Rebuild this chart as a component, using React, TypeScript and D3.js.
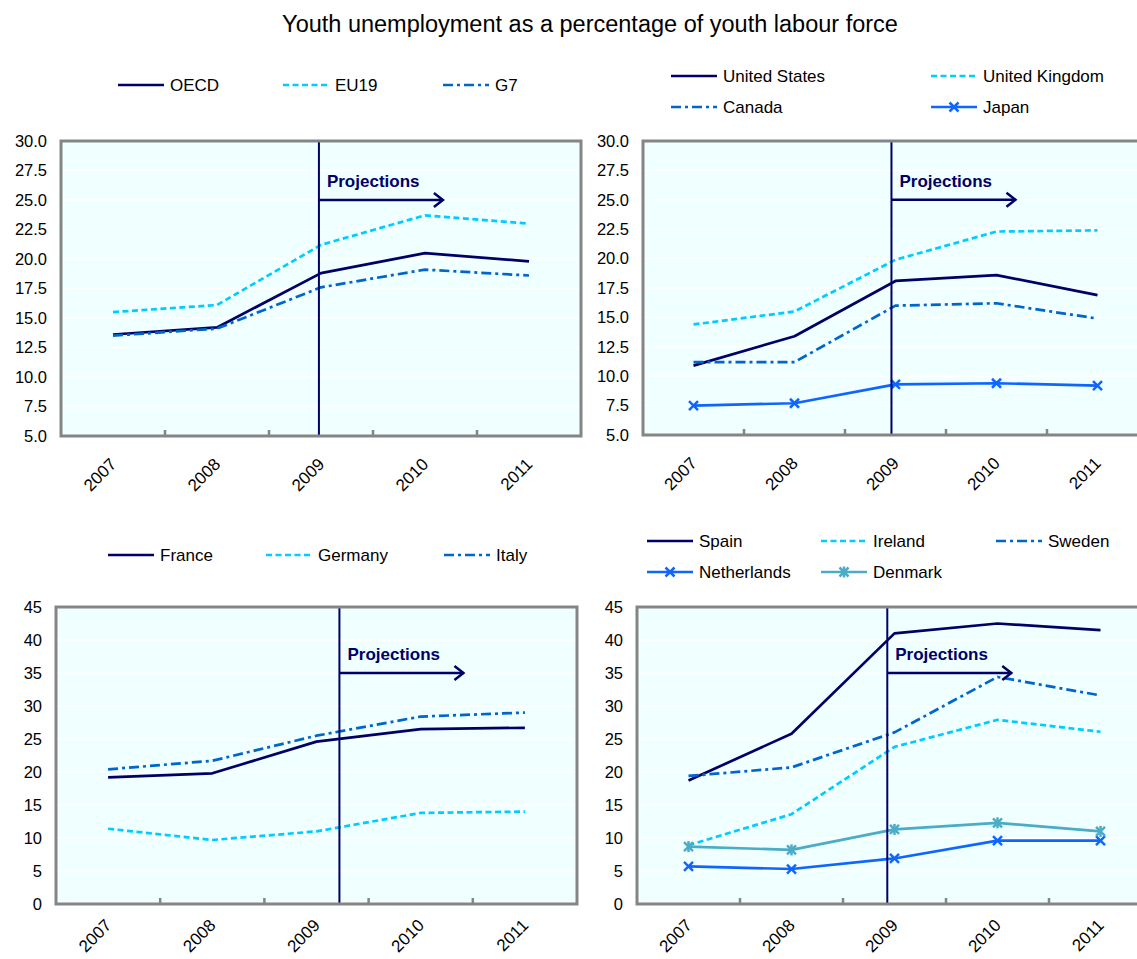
import React from 'react';
import * as d3 from 'd3';

// Years on the category axis
const years = ['2007', '2008', '2009', '2010', '2011'];

// Panel 1: OECD aggregates
const oecd = [13.6, 14.2, 18.8, 20.5, 19.8];
const eu19 = [15.5, 16.1, 21.2, 23.7, 23.0];
const g7 = [13.5, 14.1, 17.6, 19.1, 18.6];

// Panel 2: large economies
const unitedStates = [10.9, 13.4, 18.1, 18.6, 16.9];
const unitedKingdom = [14.4, 15.5, 19.9, 22.3, 22.4];
const canada = [11.2, 11.2, 16.0, 16.2, 14.9];
const japan = [7.5, 7.7, 9.3, 9.4, 9.2];

// Panel 3: continental Europe
const france = [19.2, 19.8, 24.6, 26.5, 26.7];
const germany = [11.4, 9.7, 11.0, 13.8, 14.0];
const italy = [20.4, 21.7, 25.5, 28.4, 29.0];

// Panel 4: smaller European economies
const spain = [18.7, 25.8, 41.0, 42.5, 41.5];
const ireland = [8.9, 13.6, 23.8, 27.9, 26.1];
const sweden = [19.4, 20.7, 26.0, 34.4, 31.6];
const netherlands = [5.7, 5.3, 6.9, 9.6, 9.6];
const denmark = [8.7, 8.2, 11.3, 12.3, 11.0];

// Y-axis tick values
const ticksTop = [5, 7.5, 10, 12.5, 15, 17.5, 20, 22.5, 25, 27.5, 30];
const ticksBottom = [0, 5, 10, 15, 20, 25, 30, 35, 40, 45];

const FONT = '"Liberation Sans", Arial, Helvetica, sans-serif';
const NAVY = '#000066';
const BORDER = '#858585';
const PLOT_BG = '#F0FFFF';

type LineKind = 'solid' | 'dash' | 'dashdot' | 'cross' | 'star';

const KIND: Record<LineKind, { stroke: string; dash?: string; marker?: 'x' | 'star' }> = {
  solid: { stroke: NAVY },
  dash: { stroke: '#00CCFF', dash: '6,3.5' },
  dashdot: { stroke: '#0066CC', dash: '10,4,3,4' },
  cross: { stroke: '#0F66FF', marker: 'x' },
  star: { stroke: '#4BACC6', marker: 'star' },
};

interface Series {
  name: string;
  values: number[];
  kind: LineKind;
  lx: number; // legend line start
  ly: number; // legend row centre
}

interface Panel {
  left: number;
  right: number;
  top: number;
  bottom: number;
  ticks: number[];
  fmt: (v: number) => string;
  proj: number; // fractional category index of the projection divider
  arrowValue: number;
  labelOffset: number; // distance from axis to the rotated year labels
  series: Series[];
}

const fmt1 = d3.format('.1f');
const fmt0 = d3.format('d');

const panels: Panel[] = [
  {
    left: 61, right: 581, top: 141, bottom: 436, ticks: ticksTop, fmt: fmt1, proj: 1.98, arrowValue: 25,
    labelOffset: 21,
    series: [
      { name: 'OECD', values: oecd, kind: 'solid', lx: 118, ly: 85 },
      { name: 'EU19', values: eu19, kind: 'dash', lx: 283, ly: 85 },
      { name: 'G7', values: g7, kind: 'dashdot', lx: 443, ly: 85 },
    ],
  },
  {
    left: 643, right: 1148, top: 141, bottom: 435, ticks: ticksTop, fmt: fmt1, proj: 1.96, arrowValue: 25,
    labelOffset: 21,
    series: [
      { name: 'United States', values: unitedStates, kind: 'solid', lx: 671, ly: 76 },
      { name: 'United Kingdom', values: unitedKingdom, kind: 'dash', lx: 931, ly: 76 },
      { name: 'Canada', values: canada, kind: 'dashdot', lx: 671, ly: 107 },
      { name: 'Japan', values: japan, kind: 'cross', lx: 931, ly: 107 },
    ],
  },
  {
    left: 56, right: 577, top: 607, bottom: 904, ticks: ticksBottom, fmt: fmt0, proj: 2.22, arrowValue: 35,
    labelOffset: 14,
    series: [
      { name: 'France', values: france, kind: 'solid', lx: 108, ly: 555 },
      { name: 'Germany', values: germany, kind: 'dash', lx: 266, ly: 555 },
      { name: 'Italy', values: italy, kind: 'dashdot', lx: 444, ly: 555 },
    ],
  },
  {
    left: 637, right: 1152, top: 607, bottom: 904, ticks: ticksBottom, fmt: fmt0, proj: 1.93, arrowValue: 35,
    labelOffset: 14,
    series: [
      { name: 'Spain', values: spain, kind: 'solid', lx: 647, ly: 541 },
      { name: 'Ireland', values: ireland, kind: 'dash', lx: 821, ly: 541 },
      { name: 'Sweden', values: sweden, kind: 'dashdot', lx: 996, ly: 541 },
      { name: 'Netherlands', values: netherlands, kind: 'cross', lx: 647, ly: 572 },
      { name: 'Denmark', values: denmark, kind: 'star', lx: 821, ly: 572 },
    ],
  },
];

function Marker({ x, y, type, color }: { x: number; y: number; type: 'x' | 'star'; color: string }) {
  const s = 4.5;
  return (
    <g stroke={color} strokeWidth={2.5} strokeLinecap="butt">
      <line x1={x - s} y1={y - s} x2={x + s} y2={y + s} />
      <line x1={x - s} y1={y + s} x2={x + s} y2={y - s} />
      {type === 'star' && <line x1={x} y1={y - 5.5} x2={x} y2={y + 5.5} />}
    </g>
  );
}

function ChartPanel({ p }: { p: Panel }) {
  const x = d3.scaleBand<string>().domain(years).range([p.left, p.right]).paddingInner(0).paddingOuter(0);
  const bw = x.bandwidth();
  const cx = (i: number) => p.left + (i + 0.5) * bw;
  const yMin = p.ticks[0];
  const yMax = p.ticks[p.ticks.length - 1];
  const y = d3.scaleLinear().domain([yMin, yMax]).range([p.bottom, p.top]);
  const line = d3
    .line<number>()
    .x((_, i) => (x(years[i]) as number) + bw / 2)
    .y((v) => y(v));
  const projX = cx(p.proj);
  const arrowY = y(p.arrowValue);
  const arrowEnd = projX + 124;

  return (
    <g>
      <rect x={p.left} y={p.top} width={p.right - p.left} height={p.bottom - p.top} fill={PLOT_BG} />
      {/* horizontal gridlines */}
      {p.ticks.slice(1, -1).map((t) => (
        <line key={t} x1={p.left} x2={p.right} y1={y(t)} y2={y(t)} stroke="#FFFFFF" strokeWidth={1.5} />
      ))}
      {/* y tick labels */}
      {p.ticks.map((t) => (
        <text
          key={t}
          x={p.left - 14}
          y={y(t)}
          dy="0.35em"
          textAnchor="end"
          fontFamily={FONT}
          fontSize={16.5}
          fill="#000"
        >
          {p.fmt(t)}
        </text>
      ))}
      {/* category ticks (inside, at band boundaries) */}
      {years.slice(1).map((yr) => (
        <line
          key={yr}
          x1={x(yr) as number}
          x2={x(yr) as number}
          y1={p.bottom}
          y2={p.bottom - 6}
          stroke={BORDER}
          strokeWidth={2.5}
        />
      ))}
      {/* x labels */}
      {years.map((yr) => (
        <text
          key={yr}
          transform={`translate(${(x(yr) as number) + bw / 2 - 4},${p.bottom + p.labelOffset}) rotate(-45)`}
          textAnchor="end"
          dy="0.7em"
          fontFamily={FONT}
          fontSize={17}
          fill="#000"
        >
          {yr}
        </text>
      ))}
      {/* series */}
      {p.series.map((s) => {
        const k = KIND[s.kind];
        return (
          <g key={s.name}>
            <path
              d={line(s.values) ?? ''}
              fill="none"
              stroke={k.stroke}
              strokeWidth={2.7}
              strokeDasharray={k.dash}
              strokeLinejoin="round"
            />
            {k.marker &&
              s.values.map((v, i) => (
                <Marker key={i} x={(x(years[i]) as number) + bw / 2} y={y(v)} type={k.marker!} color={k.stroke} />
              ))}
          </g>
        );
      })}
      {/* projection divider and arrow */}
      <line x1={projX} x2={projX} y1={p.top} y2={p.bottom} stroke={NAVY} strokeWidth={2} />
      <line x1={projX} x2={arrowEnd} y1={arrowY} y2={arrowY} stroke={NAVY} strokeWidth={2.5} />
      <polyline
        points={`${arrowEnd - 9},${arrowY - 7} ${arrowEnd},${arrowY} ${arrowEnd - 9},${arrowY + 7}`}
        fill="none"
        stroke={NAVY}
        strokeWidth={2.5}
      />
      <text x={projX + 8} y={arrowY - 13} fontFamily={FONT} fontSize={17} fontWeight="bold" fill={NAVY}>
        Projections
      </text>
      {/* plot frame */}
      <rect
        x={p.left}
        y={p.top}
        width={p.right - p.left}
        height={p.bottom - p.top}
        fill="none"
        stroke={BORDER}
        strokeWidth={3}
      />
      {/* legend */}
      {p.series.map((s) => {
        const k = KIND[s.kind];
        return (
          <g key={`lg-${s.name}`}>
            <line
              x1={s.lx}
              x2={s.lx + 46}
              y1={s.ly}
              y2={s.ly}
              stroke={k.stroke}
              strokeWidth={2.7}
              strokeDasharray={k.dash}
            />
            {k.marker && <Marker x={s.lx + 23} y={s.ly} type={k.marker} color={k.stroke} />}
            <text x={s.lx + 52} y={s.ly} dy="0.35em" fontFamily={FONT} fontSize={17} fill="#000">
              {s.name}
            </text>
          </g>
        );
      })}
    </g>
  );
}

export default function App() {
  return (
    <svg
      width={1137}
      height={959}
      viewBox="0 0 1137 959"
      style={{ position: 'absolute', left: 0, top: 0, background: '#FFFFFF' }}
    >
      <rect x={0} y={0} width={1137} height={959} fill="#FFFFFF" />
      <text x={590} y={32} textAnchor="middle" fontFamily={FONT} fontSize={23.5} fill="#000">
        Youth unemployment as a percentage of youth labour force
      </text>
      {panels.map((p, i) => (
        <ChartPanel key={i} p={p} />
      ))}
    </svg>
  );
}
